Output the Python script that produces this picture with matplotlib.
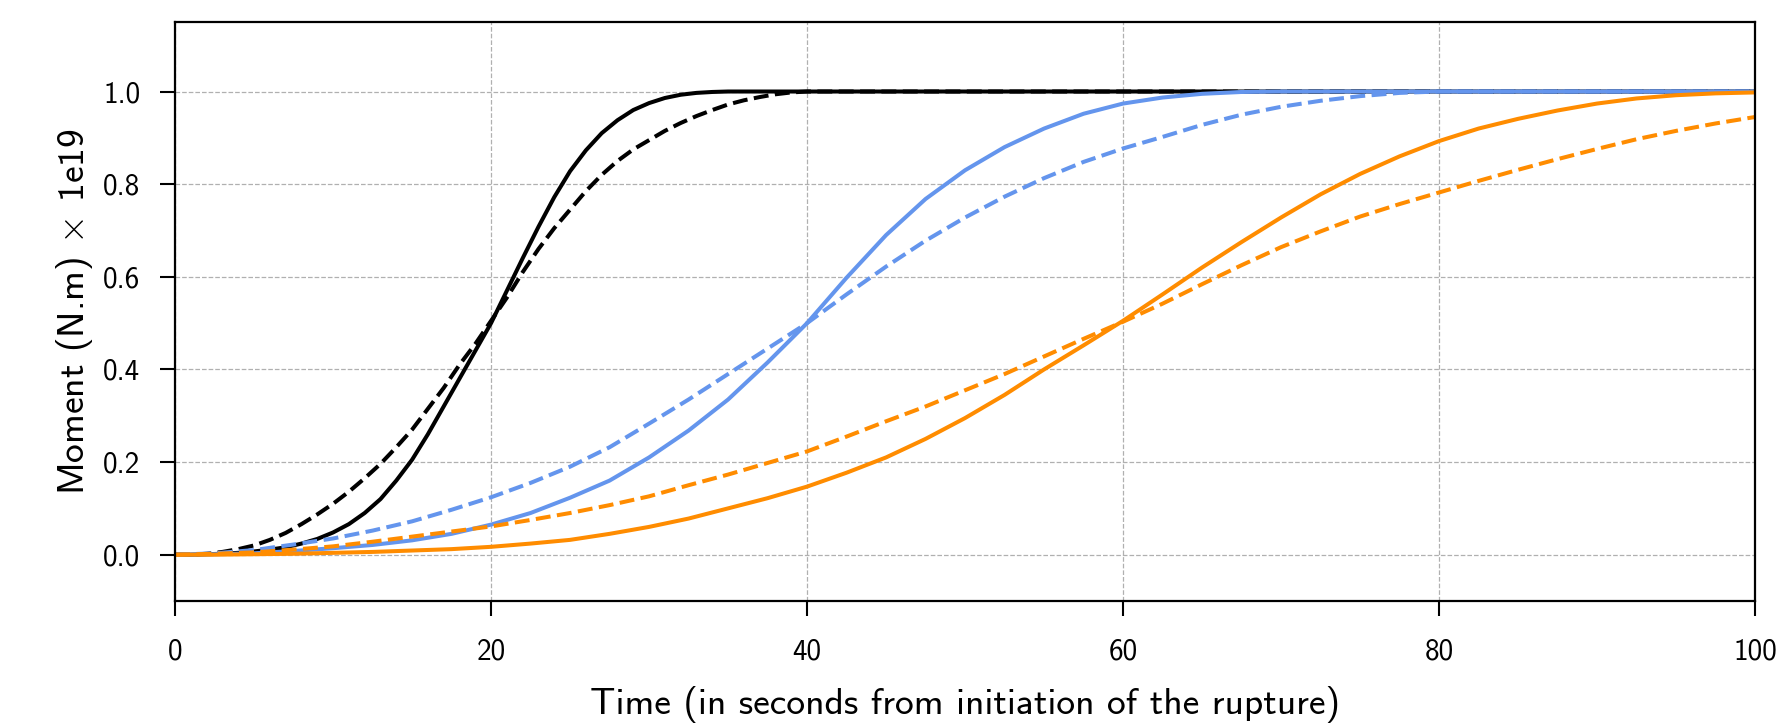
#!/usr/bin/env python3
import numpy as np
import matplotlib
matplotlib.use("Agg")
import matplotlib.pyplot as plt

# time grids (s)
t_fast = list(range(0, 41)) + [100]
t = np.arange(0, 100.1, 2.5)

# moment curves (x 1e19 N.m)
black_solid = [0.0, 0.0, 0.001, 0.002, 0.004, 0.007, 0.011, 0.016, 0.024, 0.034, 0.048,
               0.066, 0.09, 0.12, 0.16, 0.205, 0.26, 0.32, 0.38, 0.44, 0.50, 0.57, 0.64,
               0.708, 0.772, 0.828, 0.873, 0.91, 0.938, 0.96, 0.975, 0.986, 0.993, 0.997,
               0.999, 1.0, 1.0, 1.0, 1.0, 1.0, 1.0, 1.0]
black_dash = [0.0, 0.0, 0.002, 0.006, 0.012, 0.02, 0.032, 0.047, 0.066, 0.087, 0.11,
              0.136, 0.165, 0.196, 0.232, 0.27, 0.315, 0.36, 0.41, 0.455, 0.505, 0.555,
              0.61, 0.66, 0.705, 0.745, 0.785, 0.82, 0.85, 0.875, 0.895, 0.915, 0.932,
              0.947, 0.96, 0.972, 0.981, 0.988, 0.994, 0.998, 1.0, 1.0]
blue_solid = [0.0, 0.001, 0.003, 0.008, 0.014, 0.021, 0.031, 0.045, 0.065, 0.09, 0.123, 0.16,
              0.21, 0.268, 0.335, 0.415, 0.50, 0.598, 0.69, 0.768, 0.83, 0.88, 0.92, 0.952,
              0.974, 0.987, 0.995, 0.999, 1.0, 1.0, 1.0, 1.0, 1.0, 1.0, 1.0, 1.0, 1.0, 1.0,
              1.0, 1.0, 1.0]
blue_dash = [0.0, 0.003, 0.01, 0.022, 0.035, 0.052, 0.072, 0.097, 0.124, 0.155, 0.19, 0.232,
             0.283, 0.335, 0.39, 0.445, 0.50, 0.562, 0.622, 0.678, 0.728, 0.773, 0.813, 0.848,
             0.877, 0.902, 0.928, 0.95, 0.967, 0.98, 0.99, 0.997, 1.0, 1.0, 1.0, 1.0, 1.0,
             1.0, 1.0, 1.0, 1.0]
orange_solid = [0.0, 0.0, 0.001, 0.002, 0.004, 0.006, 0.009, 0.012, 0.017, 0.024, 0.032,
                0.045, 0.06, 0.078, 0.10, 0.122, 0.147, 0.177, 0.21, 0.25, 0.295, 0.345,
                0.40, 0.452, 0.505, 0.562, 0.62, 0.675, 0.728, 0.778, 0.822, 0.86, 0.893, 0.92,
                0.941, 0.959, 0.974, 0.985, 0.992, 0.996, 0.998]
orange_dash = [0.0, 0.002, 0.005, 0.011, 0.018, 0.028, 0.039, 0.05, 0.061, 0.075, 0.09,
               0.107, 0.126, 0.15, 0.173, 0.198, 0.223, 0.255, 0.288, 0.32, 0.355, 0.39,
               0.428, 0.466, 0.503, 0.542, 0.584, 0.625, 0.664, 0.698, 0.73, 0.757, 0.782,
               0.807, 0.831, 0.854, 0.876, 0.897, 0.915, 0.931, 0.945]

plt.rcParams.update({
    "font.family": ["cmss10", "DejaVu Sans"],
    "mathtext.fontset": "cm",
    "axes.unicode_minus": False,
})

fig, ax = plt.subplots(figsize=(17.92, 7.27), dpi=100)
fig.subplots_adjust(left=0.0977, right=0.9794, top=0.9697, bottom=0.1733)

lw = 2.9
ax.plot(t_fast, black_solid, color='k', lw=lw)
ax.plot(t_fast, black_dash, color='k', lw=lw, ls='--')
ax.plot(t, blue_solid, color='cornflowerblue', lw=lw)
ax.plot(t, blue_dash, color='cornflowerblue', lw=lw, ls='--')
ax.plot(t, orange_solid, color='darkorange', lw=lw)
ax.plot(t, orange_dash, color='darkorange', lw=lw, ls='--')

ax.set_xlim(0, 100)
ax.set_ylim(-0.1, 1.15)
ax.set_xticks([0, 20, 40, 60, 80, 100])
ax.set_yticks([0.0, 0.2, 0.4, 0.6, 0.8, 1.0])
ax.set_yticklabels(['0.0', '0.2', '0.4', '0.6', '0.8', '1.0'])
ax.grid(True, ls='--', color='#b0b0b0', lw=0.9)
ax.tick_params(labelsize=21, length=11, width=1.5, direction='out')
ax.tick_params(axis='x', pad=16)
ax.tick_params(axis='y', pad=14)
for s in ax.spines.values():
    s.set_linewidth(1.6)

ax.set_xlabel('Time (in seconds from initiation of the rupture)', fontsize=27, labelpad=15)
ax.set_ylabel('Moment (N.m) $\\times$ 1e19', fontsize=27, labelpad=5.5)

fig.savefig('out.png', dpi=100)
